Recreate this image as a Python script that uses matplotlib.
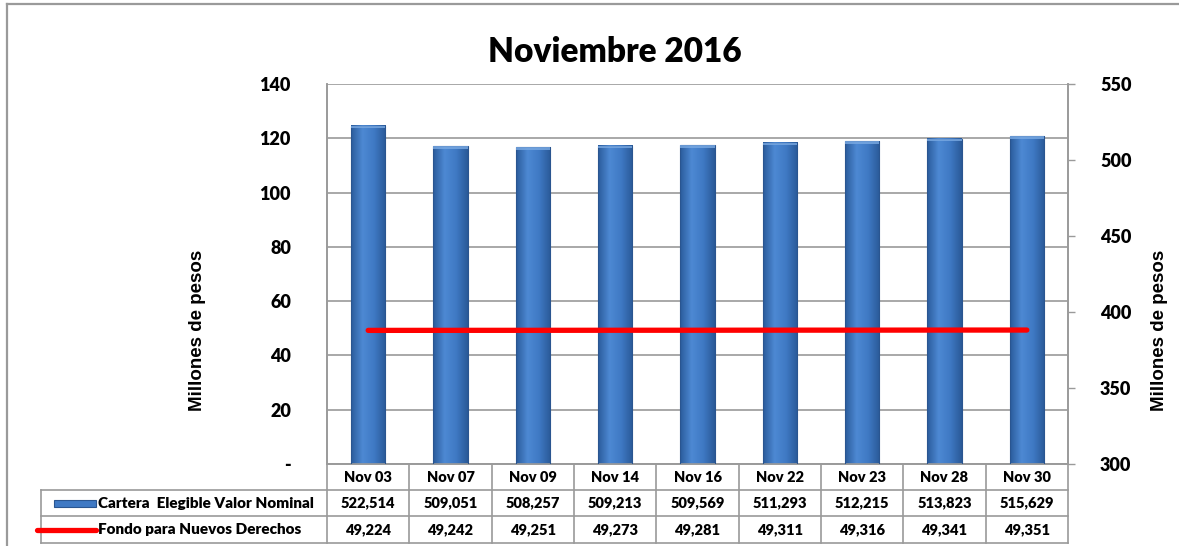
import numpy as np
import matplotlib.pyplot as plt
from matplotlib.colors import LinearSegmentedColormap
from matplotlib.lines import Line2D
from matplotlib.patches import Rectangle

# datos (miles de pesos)
fechas = ['Nov 03', 'Nov 07', 'Nov 09', 'Nov 14', 'Nov 16', 'Nov 22', 'Nov 23', 'Nov 28', 'Nov 30']
cartera = [522514, 509051, 508257, 509213, 509569, 511293, 512215, 513823, 515629]
fondo = [49224, 49242, 49251, 49273, 49281, 49311, 49316, 49341, 49351]
serie_barras = 'Cartera  Elegible Valor Nominal'
serie_linea = 'Fondo para Nuevos Derechos'
titulo = 'Noviembre 2016'
etiqueta_eje = 'Millones de pesos'
ticks_izq = [0, 20, 40, 60, 80, 100, 120, 140]
ticks_der = [300, 350, 400, 450, 500, 550]

W, H = 1179, 546
fuente = 'Lato'
arial = 'Liberation Sans'
gris = '#9a9a9a'
peso = 'heavy'

def px(x):
    return x / W

def py(y):
    return 1 - y / H

fig = plt.figure(figsize=(W / 100, H / 100), dpi=100)

# borde exterior del grafico
fig.add_artist(Line2D([px(7), px(1179)], [py(4), py(4)], color=gris, lw=1.6))
fig.add_artist(Line2D([px(7), px(7)], [py(4), py(H)], color=gris, lw=1.6))

x0, x1, y_top, y_bot = 327, 1068, 84, 464
ax = fig.add_axes([px(x0), py(y_bot), px(x1 - x0), (y_bot - y_top) / H])
ax2 = ax.twinx()

n = len(fechas)
x = np.arange(n)
ancho = 0.42

# barras con degradado (eje derecho)
cmap = LinearSegmentedColormap.from_list('azul', ['#2b5c9c', '#4d89d3', '#3f79c4', '#2a5a98'])
grad = np.linspace(0, 1, 64).reshape(1, -1)
for i, v in enumerate(cartera):
    ax2.imshow(grad, extent=[i - ancho / 2, i + ancho / 2, 0, v / 1000], aspect='auto',
               cmap=cmap, zorder=2)
    ax2.add_patch(Rectangle((i - ancho / 2, 0), ancho, v / 1000, fill=False,
                            edgecolor='#2a5590', lw=0.8, zorder=3))
    # brillo superior
    ax2.add_patch(Rectangle((i - ancho / 2, v / 1000 - 1.6), ancho, 1.6,
                            color='#7aaae3', lw=0, alpha=0.8, zorder=3))

# linea (eje izquierdo, dibujada sobre las barras)
ax2.plot(x, np.array(fondo) / 1000, color='#ff0000', lw=3.8, solid_capstyle='round',
         transform=ax.transData, zorder=4)

ax.set_xlim(-0.5, n - 0.5)
ax2.set_xlim(-0.5, n - 0.5)
ax.set_ylim(0, 140)
ax2.set_ylim(300, 550)

ax.set_yticks(ticks_izq)
ax.set_yticklabels(['-' if t == 0 else str(t) for t in ticks_izq])
ax2.set_yticks(ticks_der)
ax2.set_yticklabels([str(t) for t in ticks_der])
ax.set_xticks([])
ax.yaxis.grid(True, color=gris, lw=1.2)
ax.set_axisbelow(True)

ax.tick_params(axis='y', length=0, pad=26, labelsize=13)
ax2.tick_params(axis='y', length=5, width=1, color=gris, direction='out', pad=18, labelsize=13)
for a in (ax, ax2):
    for lab in a.get_yticklabels():
        lab.set_fontfamily(fuente)
        lab.set_fontweight(peso)
    for s in a.spines.values():
        s.set_color(gris)
        s.set_linewidth(1.2)
    a.spines['top'].set_visible(False)

fig.text(px(615), py(52), titulo, ha='center', va='center', fontsize=24,
         fontweight=peso, family=fuente)
fig.text(px(198), py(330), etiqueta_eje, ha='center', va='center', rotation=90,
         fontsize=13.5, fontweight='bold', family=arial)
fig.text(px(1160), py(330), etiqueta_eje, ha='center', va='center', rotation=90,
         fontsize=13.5, fontweight='bold', family=arial)

# tabla de datos
col_w = (x1 - x0) / n
filas = [464, 490, 516, 543]
tab_izq = 41
for yy in filas[1:]:
    fig.add_artist(Line2D([px(tab_izq), px(x1)], [py(yy), py(yy)], color=gris, lw=1.2))
for k in range(n + 1):
    xx = x0 + k * col_w
    fig.add_artist(Line2D([px(xx), px(xx)], [py(filas[0]), py(filas[-1])], color=gris, lw=1.2))
fig.add_artist(Line2D([px(tab_izq), px(tab_izq)], [py(filas[1]), py(filas[-1])], color=gris, lw=1.2))

estilo = dict(ha='center', va='center', fontsize=10.5, fontweight=peso, family=fuente)
for i in range(n):
    cx = px(x0 + (i + 0.5) * col_w)
    fig.text(cx, py((filas[0] + filas[1]) / 2), fechas[i], **estilo)
    fig.text(cx, py((filas[1] + filas[2]) / 2), f'{cartera[i]:,}', **estilo)
    fig.text(cx, py((filas[2] + filas[3]) / 2), f'{fondo[i]:,}', **estilo)

# claves de la leyenda dentro de la tabla
yc1 = (filas[1] + filas[2]) / 2
yc2 = (filas[2] + filas[3]) / 2
clave = Rectangle((px(54), py(yc1 + 3.5)), px(42), 7 / H, transform=fig.transFigure,
                  facecolor='#3f79c4', edgecolor='#2a5590', lw=0.8)
fig.add_artist(clave)
fig.add_artist(Line2D([px(37), px(96)], [py(yc2), py(yc2)], color='#ff0000', lw=3.8,
                      solid_capstyle='round'))
fig.text(px(98), py(yc1), serie_barras, ha='left', va='center', fontsize=11,
         fontweight=peso, family=fuente)
fig.text(px(98), py(yc2), serie_linea, ha='left', va='center', fontsize=11,
         fontweight=peso, family=fuente)

fig.savefig('out.png', dpi=100)
